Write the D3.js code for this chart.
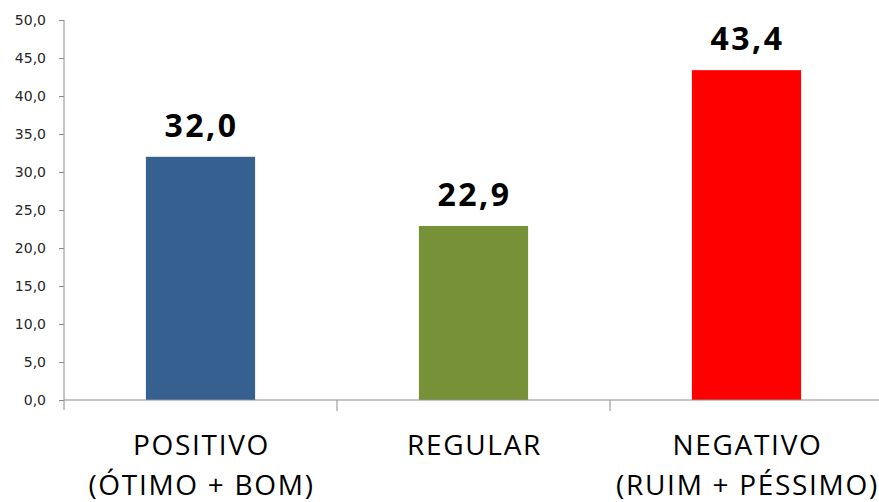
<!DOCTYPE html>
<html>
<head>
<meta charset="utf-8">
<script src="https://cdn.jsdelivr.net/npm/d3@7"></script>
<style>
  body { margin: 0; background: #fff; }
</style>
</head>
<body>
<div id="chart"></div>
<script>
// data
var categories = ["POSITIVO|(ÓTIMO + BOM)", "REGULAR", "NEGATIVO|(RUIM + PÉSSIMO)"];
var values = [32.0, 22.9, 43.4];
var barColors = ["#35608f", "#779139", "#ff0000"];
var yTicks = [0, 5, 10, 15, 20, 25, 30, 35, 40, 45, 50];

var margin = {top: 20, right: -4, bottom: 102, left: 64},
    width = 879 - margin.left - margin.right,
    height = 502 - margin.top - margin.bottom;

var svg = d3.select("#chart")
  .append("svg")
    .attr("width", 879)
    .attr("height", 502)
  .append("g")
    .attr("transform", "translate(" + margin.left + "," + margin.top + ")");

var x = d3.scaleBand()
  .domain(categories)
  .range([0, width])
  .paddingInner(0)
  .paddingOuter(0);

var y = d3.scaleLinear()
  .domain([0, 50])
  .range([height, 0]);

var fmt = function(d) { return d3.format(".1f")(d).replace(".", ","); };

// y axis
var yAxis = svg.append("g")
  .call(d3.axisLeft(y).tickValues(yTicks).tickSize(5).tickPadding(13).tickFormat(fmt));
yAxis.select(".domain").attr("stroke", "#8c8c8c").attr("d", "M0,0V" + (height + 10));
yAxis.selectAll(".tick line").attr("stroke", "#8c8c8c");
yAxis.selectAll(".tick text")
  .attr("font-family", "DejaVu Sans")
  .attr("font-size", 14)
  .attr("fill", "#262626");

// bars
var bw = x.bandwidth() * 0.4;
svg.selectAll("rect.bar")
  .data(values)
  .enter()
  .append("rect")
    .attr("class", "bar")
    .attr("x", function(d, i) { return x(categories[i]) + x.bandwidth() / 2 - bw / 2; })
    .attr("y", function(d) { return y(d); })
    .attr("width", bw)
    .attr("height", function(d) { return height - y(d); })
    .attr("fill", function(d, i) { return barColors[i]; });

// x axis (drawn after bars)
var xAxis = svg.append("g")
  .attr("transform", "translate(0," + height + ")");
xAxis.append("line")
  .attr("x1", 0).attr("x2", width)
  .attr("stroke", "#8c8c8c");
xAxis.selectAll("line.tk")
  .data(categories.slice(1))
  .enter()
  .append("line")
    .attr("class", "tk")
    .attr("x1", function(d) { return x(d); })
    .attr("x2", function(d) { return x(d); })
    .attr("y1", 0).attr("y2", 11)
    .attr("stroke", "#8c8c8c");

// category labels
var lab = svg.selectAll("text.cat")
  .data(categories)
  .enter()
  .append("text")
    .attr("class", "cat")
    .attr("text-anchor", "middle")
    .attr("font-family", "Open Sans")
    .attr("font-size", 28)
    .attr("letter-spacing", 1.7)
    .attr("fill", "#000");
lab.each(function(d) {
  var t = d3.select(this);
  d.split("|").forEach(function(s, k) {
    t.append("tspan")
      .attr("x", x(d) + x.bandwidth() / 2 + 1)
      .attr("y", height + 55 + k * 40)
      .text(s);
  });
});

// value labels
svg.selectAll("text.val")
  .data(values)
  .enter()
  .append("text")
    .attr("class", "val")
    .attr("x", function(d, i) { return x(categories[i]) + x.bandwidth() / 2 + 1; })
    .attr("y", function(d) { return y(d) - 20; })
    .attr("text-anchor", "middle")
    .attr("font-family", "Open Sans")
    .attr("font-weight", "bold")
    .attr("font-size", 32)
    .attr("letter-spacing", 2.5)
    .attr("fill", "#000")
    .text(fmt);
</script>
</body>
</html>
